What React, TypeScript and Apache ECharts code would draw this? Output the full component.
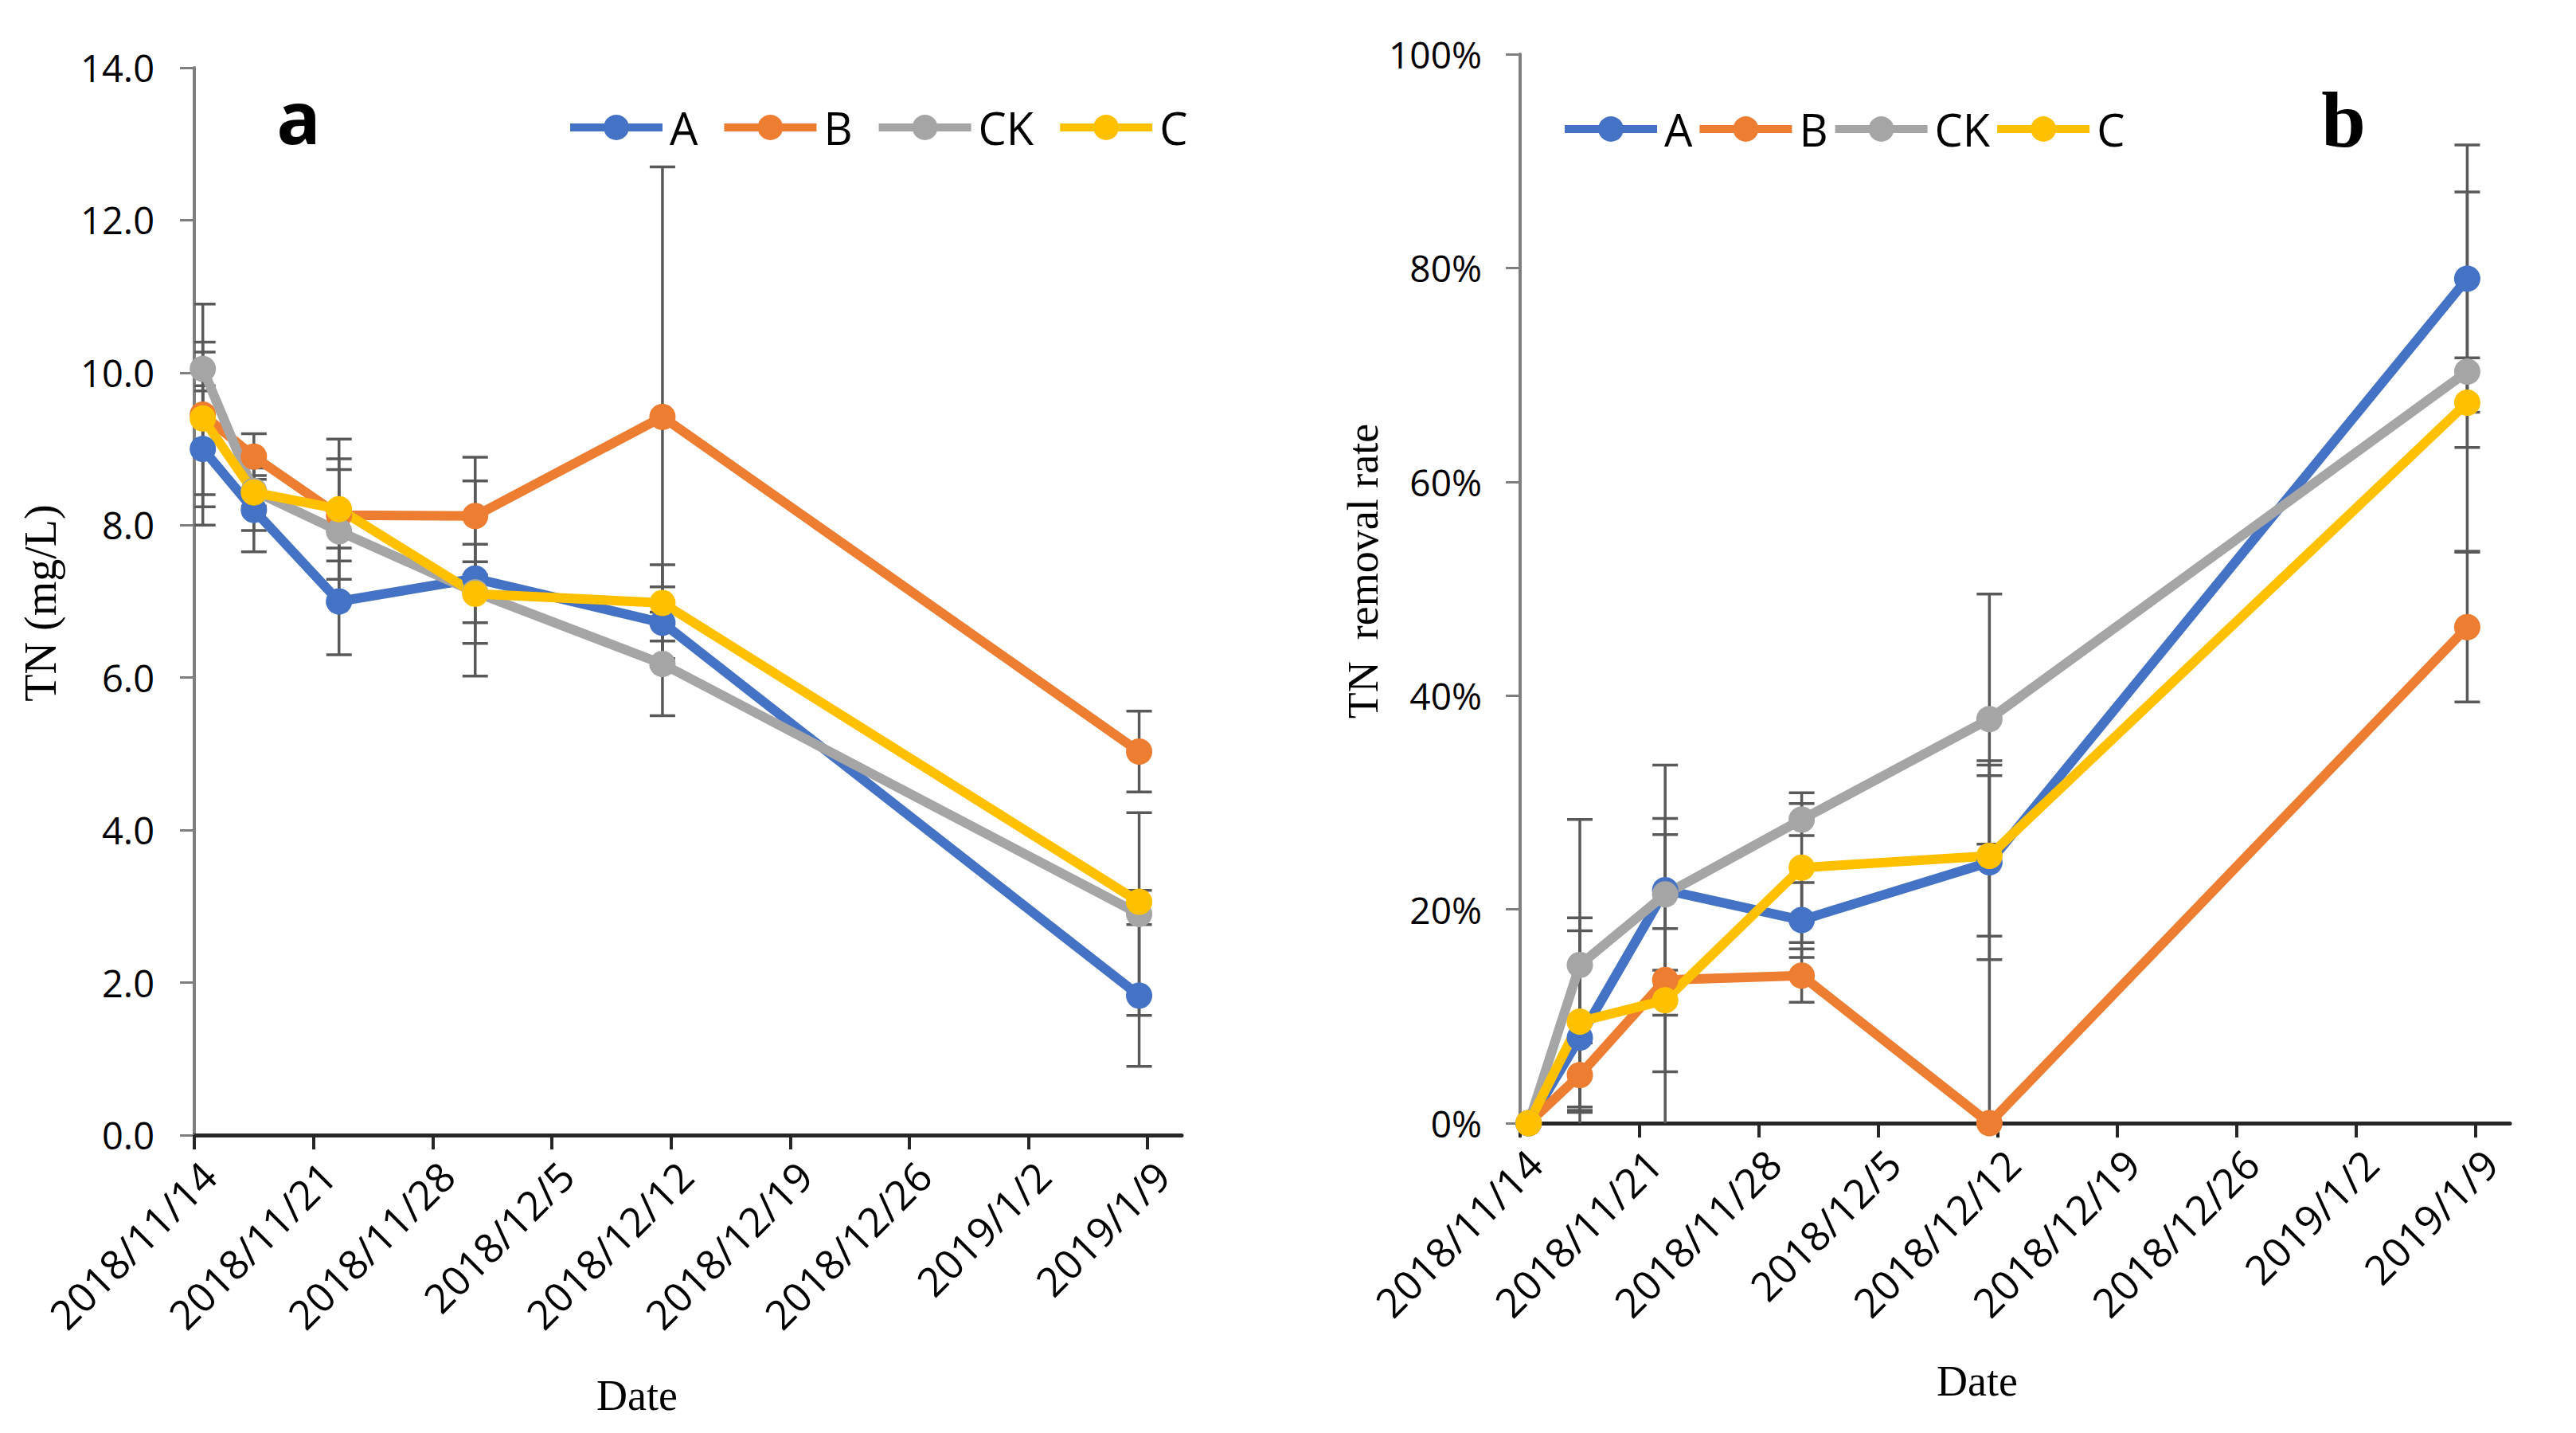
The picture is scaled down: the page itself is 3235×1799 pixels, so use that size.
import React, { useEffect, useRef } from 'react';
import * as echarts from 'echarts';

// ---------- data ----------
const seriesNames = ['A', 'B', 'CK', 'C'];
const seriesColors = ['#4472C4', '#ED7D31', '#A5A5A5', '#FFC000'];
const sampleDates = ['2018/11/14', '2018/11/17', '2018/11/22', '2018/11/30', '2018/12/11', '2019/1/8'];
const axisStart = '2018/11/14';
const axisEnd = '2019/1/11';
const xTickLabels = ['2018/11/14', '2018/11/21', '2018/11/28', '2018/12/5', '2018/12/12', '2018/12/19', '2018/12/26', '2019/1/2', '2019/1/9'];

// panel a: TN (mg/L)
const tnA = [9.0, 8.2, 7.0, 7.3, 6.72, 1.83];
const tnB = [9.45, 8.9, 8.13, 8.12, 9.42, 5.03];
const tnCK = [10.05, 8.45, 7.92, 7.12, 6.18, 2.9];
const tnC = [9.4, 8.43, 8.21, 7.1, 6.98, 3.06];
const tnErrA = [0.76, 0.55, 0.7, 1.28, 0.47, 0.93];
const tnErrB = [1.45, 0.3, 0.6, 0.77, 3.28, 0.53];
const tnErrCK = [0.22, 0.2, 0.95, 0.4, 0.68, 1.33];
const tnErrC = [1.0, 0.5, 0.92, 0.65, 0.5, 0.15];
const tnTicks = [0, 2, 4, 6, 8, 10, 12, 14];

// panel b: TN removal rate (%)
const rrA = [0, 8.0, 21.8, 19.0, 24.4, 79.0];
const rrB = [0, 4.5, 13.4, 13.8, 0, 46.4];
const rrCK = [0, 14.8, 21.4, 28.4, 37.8, 70.3];
const rrC = [0, 9.5, 11.5, 23.9, 25.0, 67.4];
const rrErrA = [0, 11.2, 11.7, 3.5, 9.1, 12.5];
const rrErrB = [0, 3.0, 13.6, 2.5, 33.9, 7.0];
const rrErrCK = [0, 13.6, 7.1, 1.5, 11.7, 16.8];
const rrErrC = [0, 8.5, 6.7, 7.0, 7.5, 4.2];
const rrTicks = [0, 20, 40, 60, 80, 100];

// ---------- helpers ----------
const DAY = 86400000;
const toMs = (s: string) => {
  const [y, m, d] = s.split('/').map(Number);
  return Date.UTC(y, m - 1, d);
};
const dayOf = (s: string) => Math.round((toMs(s) - toMs(axisStart)) / DAY);
const fmtDay = (v: number) => {
  const dt = new Date(toMs(axisStart) + Math.round(v) * DAY);
  return `${dt.getUTCFullYear()}/${dt.getUTCMonth() + 1}/${dt.getUTCDate()}`;
};
const tickDays = xTickLabels.map(dayOf);
const xMax = dayOf(axisEnd);
// Excel date axis draws a day's point in the middle of that day
const pointX = (s: string) => dayOf(s) + 0.5;

const TICK_FONT = 'Open Sans';
const SERIF = 'Liberation Serif';
const AXIS_DARK = '#262626';
const AXIS_GRAY = '#7f7f7f';
const ERR_COLOR = '#595959';
const LINE_W = 12;

function buildOption() {
  const panels = [
    { vals: [tnA, tnB, tnCK, tnC], errs: [tnErrA, tnErrB, tnErrCK, tnErrC] },
    { vals: [rrA, rrB, rrCK, rrC], errs: [rrErrA, rrErrB, rrErrCK, rrErrC] },
  ];

  const series: any[] = [];
  panels.forEach((p, pi) => {
    p.vals.forEach((vals, si) => {
      series.push({
        type: 'custom',
        name: `err-${pi}-${seriesNames[si]}`,
        xAxisIndex: pi,
        yAxisIndex: pi,
        clip: true,
        z: 2,
        encode: { x: 0, y: 1 },
        data: sampleDates.map((d, i) => [pointX(d), vals[i], p.errs[si][i]]),
        renderItem: (params: any, api: any) => {
          const x = api.value(0);
          const y = api.value(1);
          const e = api.value(2);
          if (!e) return null;
          const top = api.coord([x, y + e]);
          const bot = api.coord([x, y - e]);
          const hw = 16;
          const style = { stroke: ERR_COLOR, lineWidth: 3.5 };
          return {
            type: 'group',
            children: [
              { type: 'line', shape: { x1: top[0], y1: top[1], x2: bot[0], y2: bot[1] }, style },
              { type: 'line', shape: { x1: top[0] - hw, y1: top[1], x2: top[0] + hw, y2: top[1] }, style },
              { type: 'line', shape: { x1: bot[0] - hw, y1: bot[1], x2: bot[0] + hw, y2: bot[1] }, style },
            ],
          };
        },
      });
    });
  });
  panels.forEach((p, pi) => {
    p.vals.forEach((vals, si) => {
      series.push({
        type: 'line',
        name: seriesNames[si],
        xAxisIndex: pi,
        yAxisIndex: pi,
        z: 3,
        symbol: 'circle',
        symbolSize: 33,
        showSymbol: true,
        color: seriesColors[si],
        lineStyle: { width: LINE_W, color: seriesColors[si] },
        itemStyle: { color: seriesColors[si] },
        data: sampleDates.map((d, i) => [pointX(d), vals[i]]),
      });
    });
  });

  const xAxisCommon = {
    type: 'value',
    min: 0,
    max: xMax,
    interval: 7,
    splitLine: { show: false },
    axisLine: { show: true, lineStyle: { color: AXIS_DARK, width: 5 } },
    axisTick: { show: true, length: 18, customValues: tickDays, lineStyle: { color: AXIS_DARK, width: 4 } },
    axisLabel: {
      rotate: 45,
      margin: 24,
      verticalAlign: 'top',
      align: 'right',
      customValues: tickDays,
      formatter: (v: number) => fmtDay(v),
      fontFamily: TICK_FONT,
      fontSize: 51,
      color: '#000',
    },
  };
  const yAxisCommon = {
    type: 'value',
    min: 0,
    splitLine: { show: false },
    axisLine: { show: true, lineStyle: { color: AXIS_GRAY, width: 4 } },
    axisTick: { show: true, length: 18, lineStyle: { color: AXIS_GRAY, width: 3 } },
  };

  const legendCommon = {
    data: seriesNames,
    orient: 'horizontal',
    itemWidth: 116,
    itemHeight: 40,
    lineStyle: { width: 10 },
    textStyle: { fontFamily: TICK_FONT, fontSize: 56, color: '#000', padding: [0, 0, 0, 4] },
    selectedMode: false,
  };

  return {
    animation: false,
    backgroundColor: '#fff',
    grid: [
      { left: 244, top: 85, width: 1240, height: 1340 },
      { left: 1909, top: 68, width: 1243, height: 1342 },
    ],
    xAxis: [
      { ...xAxisCommon, gridIndex: 0 },
      { ...xAxisCommon, gridIndex: 1 },
    ],
    yAxis: [
      {
        ...yAxisCommon,
        gridIndex: 0,
        max: tnTicks[tnTicks.length - 1],
        interval: tnTicks[1] - tnTicks[0],
        axisLabel: { margin: 50, formatter: (v: number) => v.toFixed(1), fontFamily: TICK_FONT, fontSize: 47, color: '#000' },
      },
      {
        ...yAxisCommon,
        gridIndex: 1,
        max: rrTicks[rrTicks.length - 1],
        interval: rrTicks[1] - rrTicks[0],
        axisLabel: { margin: 48, formatter: (v: number) => `${v}%`, fontFamily: TICK_FONT, fontSize: 46, color: '#000' },
      },
    ],
    legend: [
      { ...legendCommon, left: 706, top: 127, itemGap: 28 },
      { ...legendCommon, left: 1955, top: 129, itemGap: 4 },
    ],
    graphic: [
      { type: 'text', x: 51, y: 757, rotation: Math.PI / 2, style: { text: 'TN (mg/L)', fontFamily: SERIF, fontSize: 56, fill: '#000', align: 'center', verticalAlign: 'middle' } },
      { type: 'text', x: 1712, y: 717, rotation: Math.PI / 2, style: { text: 'TN  removal rate', fontFamily: SERIF, fontSize: 54, fill: '#000', align: 'center', verticalAlign: 'middle' } },
      { type: 'text', x: 800, y: 1752, style: { text: 'Date', fontFamily: SERIF, fontSize: 54, fill: '#000', align: 'center', verticalAlign: 'middle' } },
      { type: 'text', x: 2483, y: 1734, style: { text: 'Date', fontFamily: SERIF, fontSize: 54, fill: '#000', align: 'center', verticalAlign: 'middle' } },
      { type: 'text', x: 375, y: 145, style: { text: 'a', fontFamily: TICK_FONT, fontWeight: 'bold', fontSize: 92, fill: '#000', align: 'center', verticalAlign: 'middle' } },
      { type: 'text', x: 2943, y: 150, style: { text: 'b', fontFamily: SERIF, fontWeight: 'bold', fontSize: 100, fill: '#000', align: 'center', verticalAlign: 'middle' } },
    ],
    series,
  };
}

export default function App() {
  const ref = useRef<HTMLDivElement>(null);
  useEffect(() => {
    document.body.style.margin = '0';
    document.body.style.overflow = 'hidden';
    const chart = echarts.init(ref.current!, null, { renderer: 'svg' });
    chart.setOption(buildOption() as any);
    return () => chart.dispose();
  }, []);
  return <div ref={ref} style={{ width: 3235, height: 1799, background: '#fff' }} />;
}
